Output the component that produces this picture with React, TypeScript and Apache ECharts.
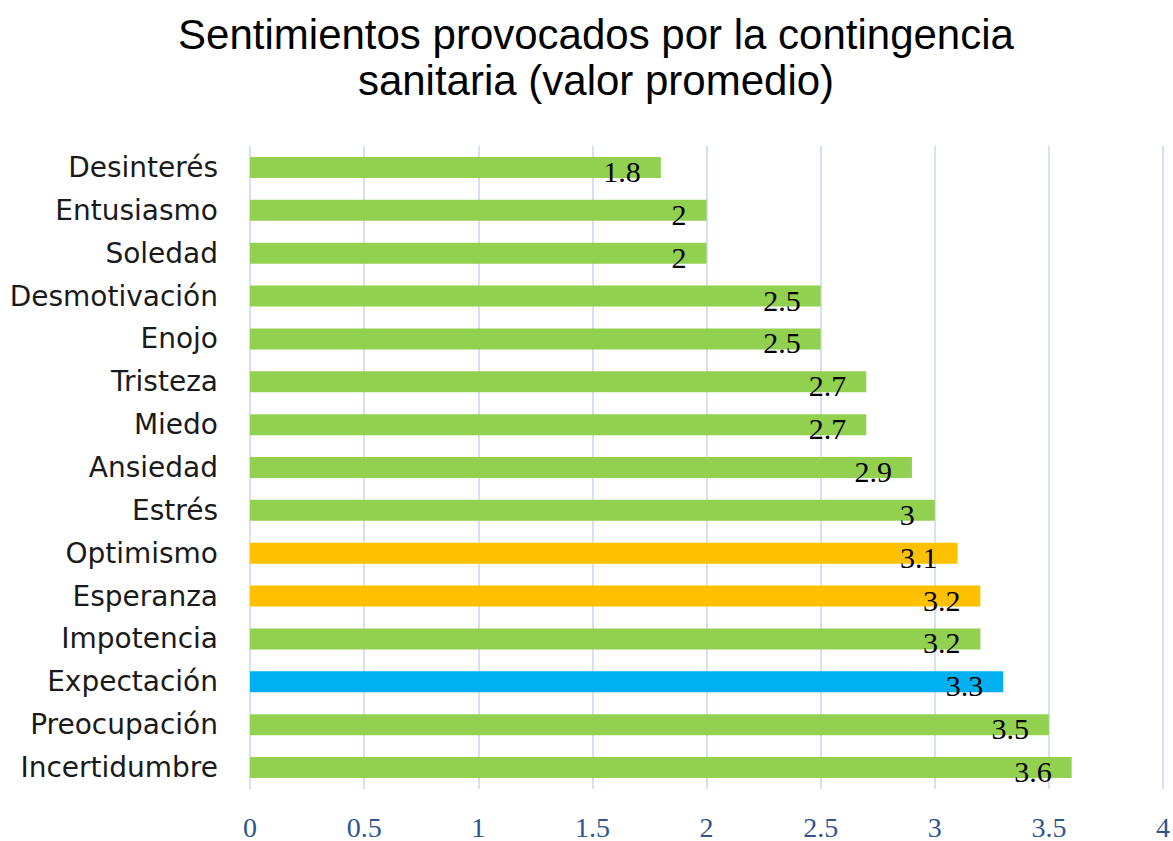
import React, { useEffect, useRef } from "react";
import * as echarts from "echarts";

const categories = [
  "Desinterés", "Entusiasmo", "Soledad", "Desmotivación", "Enojo",
  "Tristeza", "Miedo", "Ansiedad", "Estrés", "Optimismo",
  "Esperanza", "Impotencia", "Expectación", "Preocupación", "Incertidumbre",
];
const values = [1.8, 2, 2, 2.5, 2.5, 2.7, 2.7, 2.9, 3, 3.1, 3.2, 3.2, 3.3, 3.5, 3.6];
const groups = ["g", "g", "g", "g", "g", "g", "g", "g", "g", "o", "o", "g", "b", "g", "g"];
const groupColors: Record<string, string> = { g: "#92D050", o: "#FFC000", b: "#00B0F0" };
const titleText = "Sentimientos provocados por la contingencia\nsanitaria (valor promedio)";

export default function App() {
  const ref = useRef<HTMLDivElement>(null);
  useEffect(() => {
    if (!ref.current) return;
    const chart = echarts.init(ref.current, undefined, { renderer: "svg" });
    chart.setOption({
      animation: false,
      backgroundColor: "#ffffff",
      title: {
        text: titleText,
        left: 591,
        textAlign: "center",
        top: 6,
        textStyle: {
          fontFamily: "Liberation Sans Narrow, Liberation Sans, Arial",
          fontSize: 42,
          fontWeight: "normal",
          color: "#000",
          lineHeight: 46,
        },
      },
      grid: { left: 250, right: 10, top: 146, bottom: 51, containLabel: false },
      xAxis: {
        type: "value",
        min: 0,
        max: 4,
        interval: 0.5,
        axisLine: { show: false },
        axisTick: { show: false },
        splitLine: { show: true, lineStyle: { color: "#D5E1F2", width: 2 } },
        axisLabel: {
          margin: 24,
          fontFamily: "Liberation Serif, DejaVu Serif, serif",
          fontSize: 28,
          color: "#2F5590",
        },
      },
      yAxis: {
        type: "category",
        inverse: true,
        data: categories,
        axisLine: { show: false },
        axisTick: { show: false },
        axisLabel: {
          margin: 32,
          fontFamily: "DejaVu Sans, Noto Sans, sans-serif",
          fontSize: 28,
          color: "#1a1a1a",
        },
      },
      series: [
        {
          type: "bar",
          barWidth: 21,
          data: values.map((v, i) => ({ value: v, itemStyle: { color: groupColors[groups[i]] } })),
          label: {
            show: true,
            position: "insideRight",
            distance: 20,
            offset: [0, 4],
            fontFamily: "Liberation Serif, DejaVu Serif, serif",
            fontSize: 30,
            color: "#000",
          },
        },
      ],
    });
    return () => chart.dispose();
  }, []);
  return (
    <div
      ref={ref}
      style={{ position: "fixed", left: 0, top: 0, width: 1173, height: 841 }}
    />
  );
}
